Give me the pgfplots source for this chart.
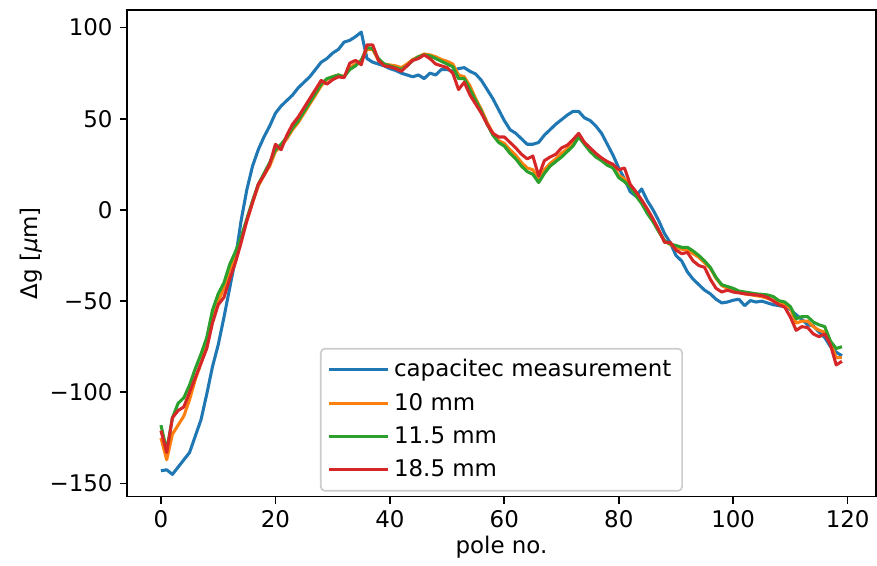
\documentclass[border=0pt]{standalone}
\usepackage{fontspec}
\setmainfont{DejaVu Sans}
\usepackage{pgfplots}
\usepackage{pgfplotstable}
\pgfplotsset{compat=1.18}
\definecolor{tabblue}{HTML}{1F77B4}
\definecolor{taborange}{HTML}{FF7F0E}
\definecolor{tabgreen}{HTML}{2CA02C}
\definecolor{tabred}{HTML}{D62728}
\pgfplotstableread{
i cap ten eleven eighteen
0 -143 -125 -118 -121
1 -142.5 -137 -132 -133
2 -145 -123 -114 -114
3 -141 -118 -106 -110
4 -137 -113 -103 -108
5 -133 -104 -96 -100
6 -124 -93 -87 -92
7 -115 -84 -79 -84
8 -101 -74 -70 -76
9 -86 -60 -55 -62
10 -74 -50 -46 -52
11 -59 -43 -40 -48
12 -43 -33 -30 -38
13 -27 -26 -23 -29
14 -6 -16 -15 -18
15 11 -6 -5 -6
16 24 4 5 4
17 33 13 14 14
18 40 19 20 19
19 46 24 26 25
20 53 32 33 36
21 57 35 36 33
22 60 39 40 41
23 63 44 45 47
24 67 48 49 51
25 70 53 54 56
26 73 58 59 61
27 77 63 64 66
28 81 68 69 71
29 83 71.5 72 69
30 86 73 73 71.4
31 88 74 74 73
32 92 73 73 72.5
33 93 78 77 80.5
34 95 80 79 82
35 97.5 82 82 79.6
36 83 88 89 90.5
37 81 88 88.5 90.5
38 80 82 83 82
39 79 80 80 79
40 77.5 79.5 79 78.5
41 76.5 79 78 77.5
42 75 78 77 76
43 74 80 79 79
44 73 82.5 82 82
45 74 84 84 83
46 72 85.5 85 85
47 75 85 84.5 83
48 74 84 83 80
49 77 82.5 81.5 79
50 77 81.5 80 78
51 76 80 78.5 75
52 77.5 74 72 66
53 78 73 72 70
54 76 68 66 63
55 74.5 61 60 58
56 71 55 54 53
57 66 48 47 47
58 61 42 41 42
59 55 38 37 40
60 49 36.5 35 40
61 44 33 31 37
62 42 30 28 34
63 39 26 24 30.5
64 36 23 21 28
65 36 22 19.5 29.5
66 37 16.5 15 18.6
67 41 22 20 27
68 44 25.5 24 29
69 47 28 26.5 30.5
70 49.5 31 29 34
71 52 33.5 32 35.5
72 54 37 35 38.5
73 54 40.5 40 42
74 50.5 37 36 37
75 49 33 32 34
76 46 30 29 31
77 42 27.5 27 28.5
78 36 25 24.5 26.5
79 30 23.5 23 25
80 23 19 17.7 22
81 17 17 15.5 23
82 10 13 12.5 14
83 7.5 8.5 7.7 10
84 11.5 4 3.5 5.5
85 5 -1 -2 0.5
86 0 -6 -6.5 -5
87 -6 -11.5 -12 -11
88 -13 -17 -17 -17.8
89 -18 -19 -18.7 -17.8
90 -25 -20.5 -19.5 -22
91 -28 -21.5 -20.5 -24
92 -34 -22 -20.5 -23.3
93 -38 -24 -22.5 -28
94 -41 -26 -25 -30.5
95 -44 -29 -28 -31.5
96 -46 -32 -31.5 -38
97 -49 -37.5 -37 -43
98 -51 -41.5 -41 -45
99 -50.5 -43 -42 -44
100 -49.5 -44 -43 -45
101 -49 -45 -44.5 -45.5
102 -52.5 -46 -45 -46
103 -49.7 -46.5 -45.5 -46.3
104 -50.5 -47 -46 -46.6
105 -50 -47.5 -46.3 -47
106 -51 -48.5 -46.6 -48
107 -52 -49.5 -47.5 -50
108 -52.5 -51 -49.8 -52
109 -53 -52 -50.5 -53.3
110 -54.5 -54 -53 -58.8
111 -57.5 -62 -59.7 -66
112 -60 -61 -58.5 -64
113 -63 -61 -58.5 -64.5
114 -63.5 -64 -61.5 -68
115 -67 -66 -63 -69.5
116 -70 -67 -64 -68
117 -75 -73 -72 -74
118 -78 -81 -76 -85
119 -80 -81 -75 -83
}\datatable
\begin{document}
\begin{tikzpicture}
\begin{axis}[
  scale only axis,
  width=365.9pt, height=237.6pt,
  xmin=-5.95, xmax=124.95,
  ymin=-157.1, ymax=109.6,
  xtick={0,20,40,60,80,100,120},
  ytick={-150,-100,-50,0,50,100},
  yticklabels={−150,−100,−50,0,50,100},
  /pgf/number format/assume math mode=true,
  tick align=outside,
  tick pos=left,
  major tick length=3.5pt,
  every tick/.style={black, line width=0.8pt},
  axis line style={line width=0.8pt},
  tick label style={font=\fontsize{11.2}{13.4}\selectfont},
  label style={font=\fontsize{11.2}{13.4}\selectfont},
  xlabel={pole no.},
  ylabel={Δg [\textit{μ}m]},
  xlabel style={yshift=3pt},
  ylabel style={yshift=-3.5pt},
  legend style={at={(0.5,0.01)}, anchor=south, draw=black!20, line width=0.8pt, rounded corners=2pt,
    fill=white, font=\fontsize{11.2}{13.4}\selectfont, row sep=2.5pt, inner sep=3.3pt},
  legend cell align=left,
  legend image code/.code={\path (0pt,0pt) -- (29pt,0pt);\draw[#1, line width=1.5pt] (0pt,0pt) -- (21.5pt,0pt);},
  every axis plot/.append style={line width=1.5pt, line join=round},
]
\addplot[tabblue, no markers] table[x=i, y=cap] {\datatable};
\addlegendentry{capacitec measurement}
\addplot[taborange, no markers] table[x=i, y=ten] {\datatable};
\addlegendentry{10 mm}
\addplot[tabgreen, no markers] table[x=i, y=eleven] {\datatable};
\addlegendentry{11.5 mm}
\addplot[tabred, no markers] table[x=i, y=eighteen] {\datatable};
\addlegendentry{18.5 mm}
\end{axis}
\pgfresetboundingbox
\path[use as bounding box] ([xshift=-62pt,yshift=-33.7pt]current axis.south west) rectangle ([xshift=0.5pt,yshift=4.9pt]current axis.north east);
\end{tikzpicture}
\end{document}
